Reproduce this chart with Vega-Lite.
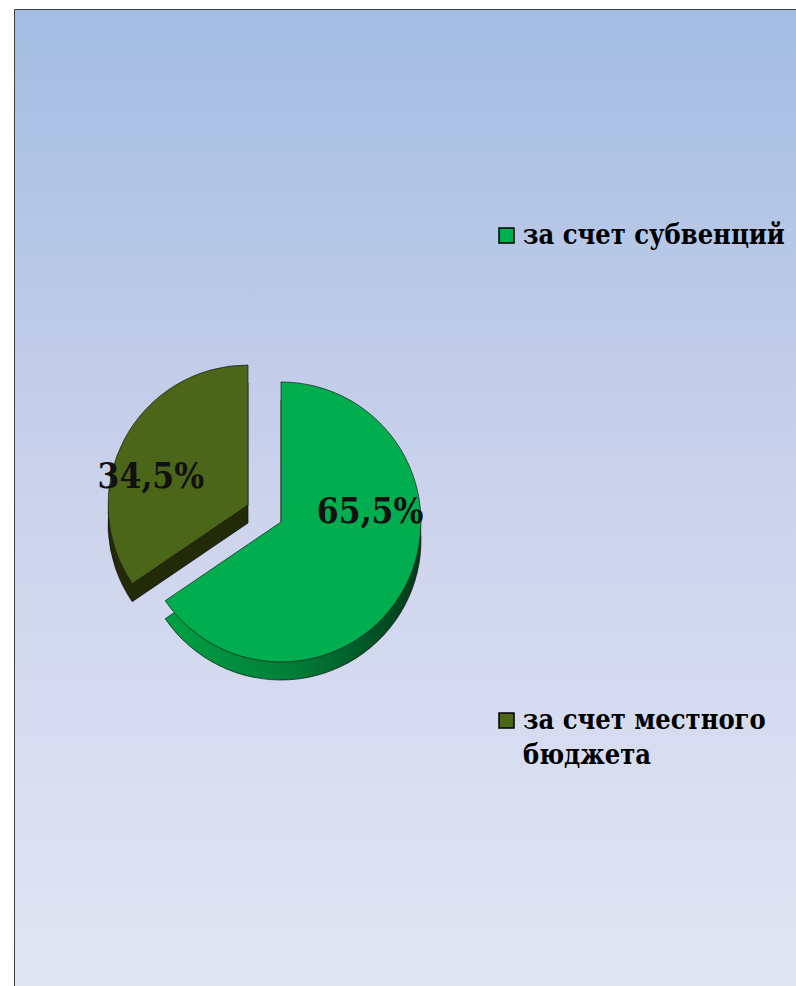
{
  "$schema": "https://vega.github.io/schema/vega-lite/v6.json",
  "width": 782,
  "height": 978,
  "padding": {"left": 15, "top": 10, "right": 0, "bottom": 0},
  "autosize": {"type": "none"},
  "background": "#ffffff",
  "config": {"view": {"stroke": "#000000", "strokeWidth": 1.5}},
  "datasets": {
    "shares": [
      {"source": "за счет субвенций", "share": 65.5, "label": "65,5%"},
      {"source": "за счет местного бюджета", "share": 34.5, "label": "34,5%"}
    ]
  },
  "data": {"name": "shares"},
  "layer": [
    {
      "data": {"values": [{}]},
      "mark": {
        "type": "rect",
        "fill": {"gradient": "linear", "x1": 0, "y1": 0, "x2": 0, "y2": 1,
          "stops": [{"offset": 0, "color": "#A3BCE2"}, {"offset": 0.5, "color": "#CCD3EC"}, {"offset": 1, "color": "#E2E6F4"}]}
      },
      "encoding": {"x": {"value": 0}, "x2": {"value": "width"}, "y": {"value": 0}, "y2": {"value": "height"}}
    },
    {
      "transform": [
        {"stack": "share", "groupby": [], "sort": [{"field": "share", "order": "descending"}], "as": ["start", "end"]},
        {"filter": "datum.source === 'за счет местного бюджета'"}
      ],
      "mark": {"type": "arc", "outerRadius": 140, "x": 233, "y": 513, "fill": "#222A08", "stroke": "#111111", "strokeWidth": 0.7},
      "encoding": {
        "theta": {"field": "start", "type": "quantitative", "scale": {"domain": [0, 100]}},
        "theta2": {"field": "end"}
      }
    },
    {
      "transform": [
        {"stack": "share", "groupby": [], "sort": [{"field": "share", "order": "descending"}], "as": ["start", "end"]},
        {"filter": "datum.source === 'за счет местного бюджета'"}
      ],
      "mark": {"type": "arc", "outerRadius": 140, "x": 233, "y": 495, "stroke": "#1a1a1a", "strokeWidth": 0.7},
      "encoding": {
        "theta": {"field": "start", "type": "quantitative", "scale": {"domain": [0, 100]}},
        "theta2": {"field": "end"},
        "color": {"field": "source", "type": "nominal",
          "scale": {"domain": ["за счет субвенций", "за счет местного бюджета"], "range": ["#00AD4F", "#4B6519"]}}
      }
    },
    {
      "transform": [
        {"stack": "share", "groupby": [], "sort": [{"field": "share", "order": "descending"}], "as": ["start", "end"]},
        {"filter": "datum.source === 'за счет субвенций'"}
      ],
      "mark": {"type": "arc", "outerRadius": 140, "x": 266, "y": 530, "stroke": "#111111", "strokeWidth": 0.7,
        "fill": {"gradient": "linear", "x1": 0, "y1": 0, "x2": 1, "y2": 0,
          "stops": [{"offset": 0, "color": "#00A044"}, {"offset": 0.5, "color": "#007E38"}, {"offset": 1, "color": "#003A1B"}]}},
      "encoding": {
        "theta": {"field": "start", "type": "quantitative", "scale": {"domain": [0, 100]}},
        "theta2": {"field": "end"}
      }
    },
    {
      "transform": [
        {"stack": "share", "groupby": [], "sort": [{"field": "share", "order": "descending"}], "as": ["start", "end"]},
        {"filter": "datum.source === 'за счет субвенций'"}
      ],
      "mark": {"type": "arc", "outerRadius": 140, "x": 266, "y": 512, "stroke": "#1a1a1a", "strokeWidth": 0.7},
      "encoding": {
        "theta": {"field": "start", "type": "quantitative", "scale": {"domain": [0, 100]}},
        "theta2": {"field": "end"},
        "color": {"field": "source", "type": "nominal",
          "scale": {"domain": ["за счет субвенций", "за счет местного бюджета"], "range": ["#00AD4F", "#4B6519"]},
          "legend": {
            "orient": "none", "legendX": 478, "legendY": 212, "title": null,
            "symbolType": "square", "symbolSize": 225, "symbolStrokeColor": "#000000", "symbolStrokeWidth": 1.5,
            "labelFont": "DejaVu Serif Condensed, DejaVu Serif", "labelFontWeight": "bold", "labelFontSize": 27,
            "labelColor": "#000000", "labelOffset": 3, "rowPadding": 457, "labelLimit": 400,
            "labelExpr": "datum.label === 'за счет местного бюджета' ? ['за счет местного', 'бюджета'] : datum.label",
            "encode": {"labels": {"update": {"lineHeight": {"value": 35}}}}
          }
        }
      }
    },
    {
      "mark": {"type": "text", "x": 266, "y": 512, "radius": 85, "dx": 14, "dy": -50,
        "font": "DejaVu Serif Condensed, DejaVu Serif", "fontWeight": "bold", "fontSize": 35, "fill": "#111111"},
      "encoding": {
        "theta": {"field": "share", "type": "quantitative", "stack": true, "scale": {"domain": [0, 100]}},
        "order": {"field": "share", "sort": "descending"},
        "text": {"field": "label"},
        "opacity": {"condition": {"test": "datum.source === 'за счет субвенций'", "value": 1}, "value": 0}
      }
    },
    {
      "mark": {"type": "text", "x": 233, "y": 495, "radius": 85, "dx": -22, "dy": 12,
        "font": "DejaVu Serif Condensed, DejaVu Serif", "fontWeight": "bold", "fontSize": 35, "fill": "#111111"},
      "encoding": {
        "theta": {"field": "share", "type": "quantitative", "stack": true, "scale": {"domain": [0, 100]}},
        "order": {"field": "share", "sort": "descending"},
        "text": {"field": "label"},
        "opacity": {"condition": {"test": "datum.source === 'за счет местного бюджета'", "value": 1}, "value": 0}
      }
    }
  ]
}
